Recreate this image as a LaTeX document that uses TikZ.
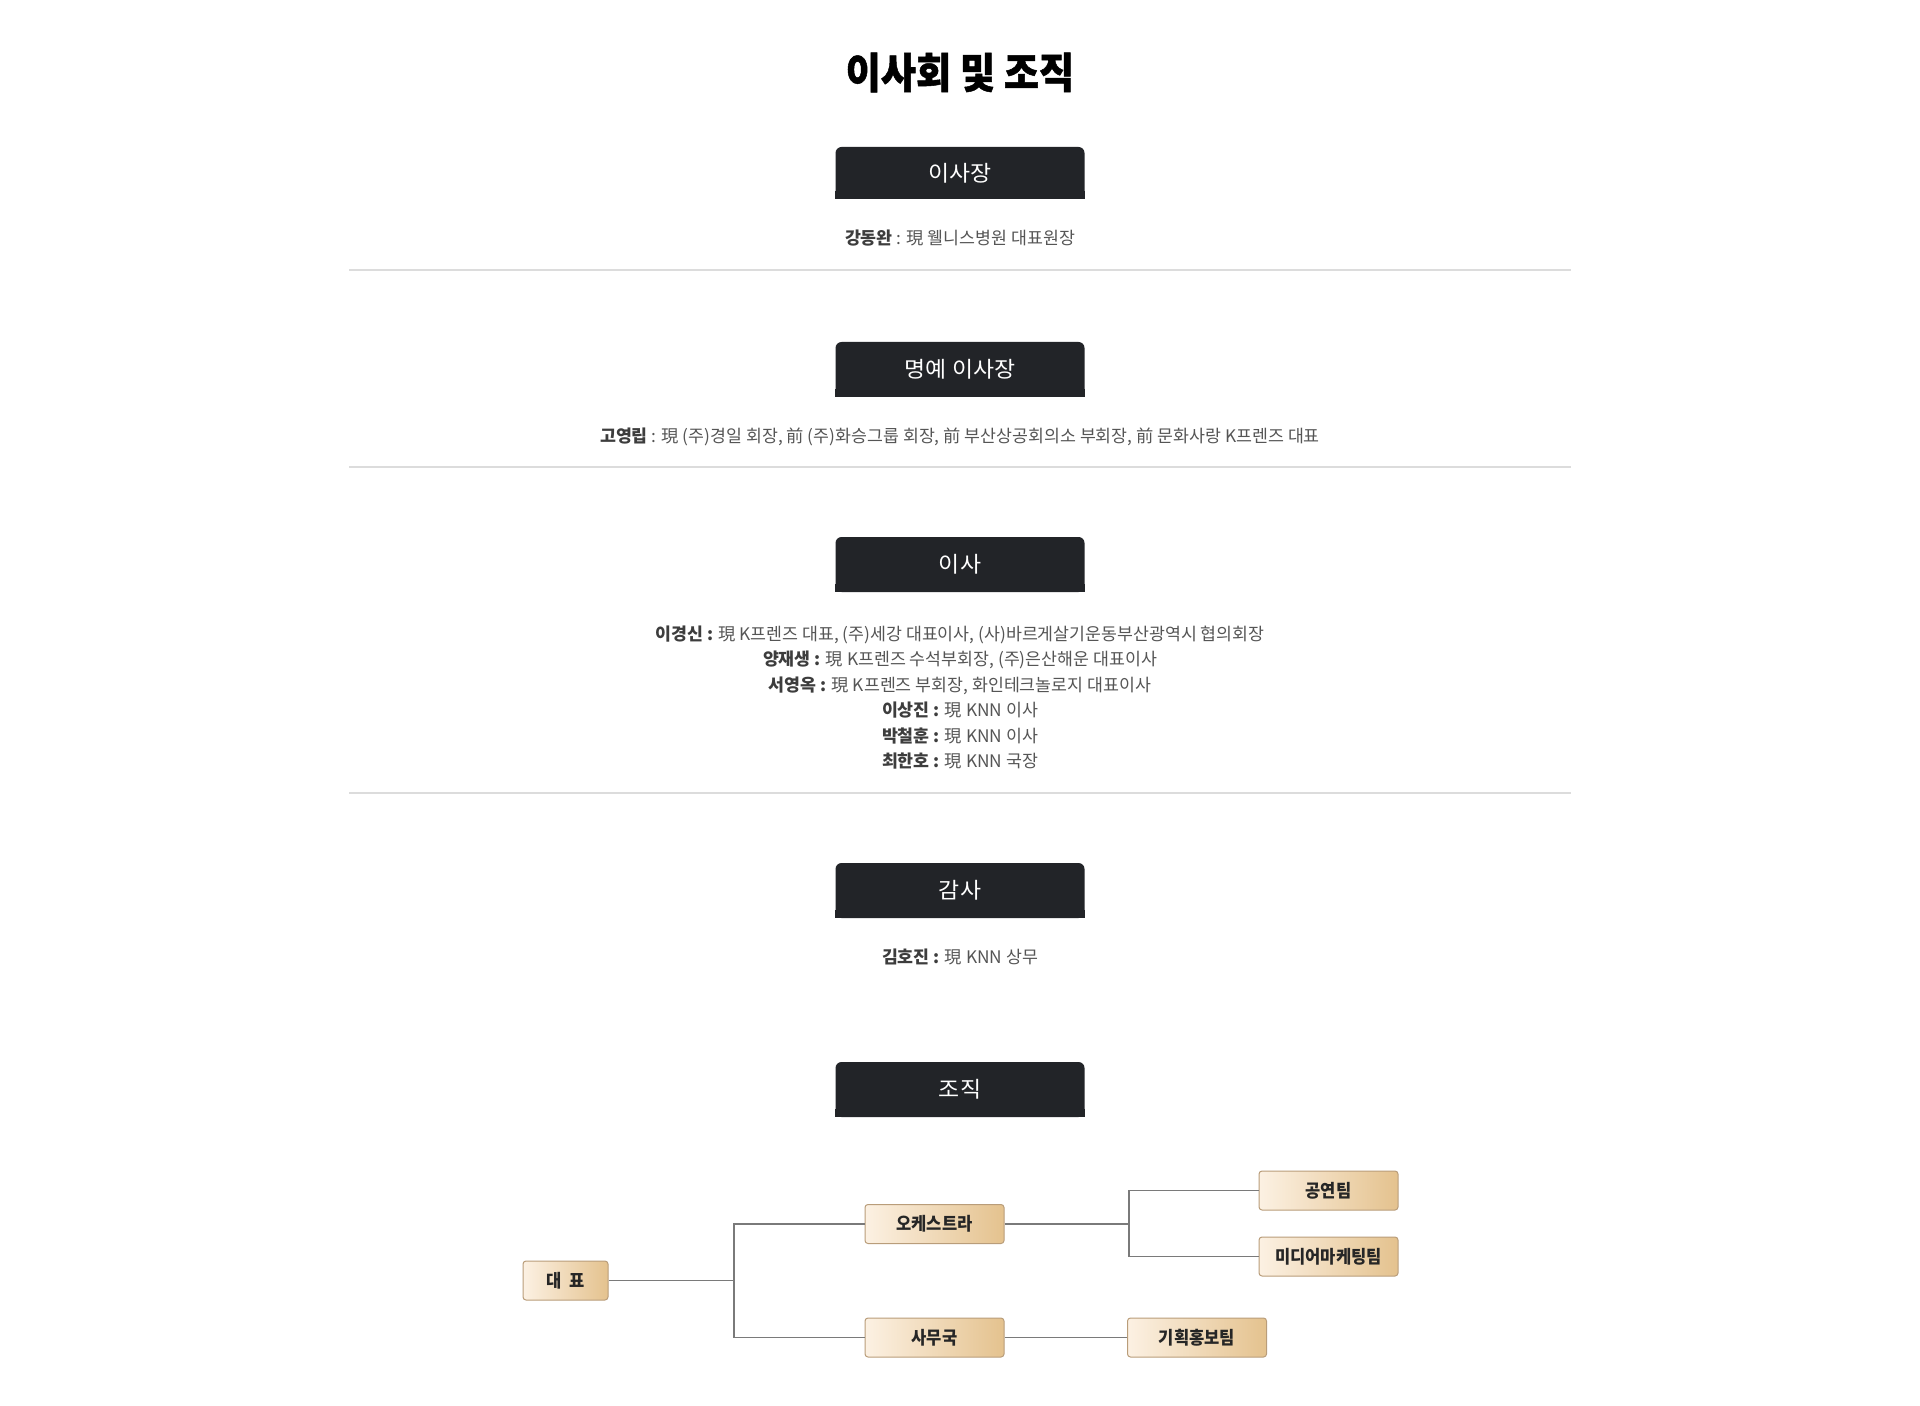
\documentclass[tikz,border=0pt]{standalone}
\usepackage{fontspec}
\newfontfamily\kr{Noto Sans CJK KR}
\newfontfamily\krh[FakeStretch=1.04]{Noto Sans CJK KR}
\newfontfamily\krn[FakeStretch=0.92]{Noto Sans CJK KR}
\newfontfamily\krt[FakeStretch=0.91,FakeBold=1.2]{Noto Sans CJK KR}
\definecolor{headfill}{HTML}{222428}
\definecolor{sepline}{HTML}{DCDCDC}
\definecolor{namecol}{HTML}{3D3D3D}
\definecolor{bodycol}{HTML}{555555}
\definecolor{orgleft}{HTML}{FCF1E3}
\definecolor{orgright}{HTML}{E4C28E}
\definecolor{orgborder}{HTML}{B99D7A}
\definecolor{linkcol}{HTML}{7A7A7A}
\tikzset{
  sechead/.style={fill=headfill, rounded corners=3pt, minimum width=124.5pt,
    minimum height=27.5pt, inner sep=0pt, text=white,
    font=\krh\fontsize{11pt}{13pt}\selectfont},
  bodytext/.style={inner sep=0pt, text=bodycol, align=center,
    font=\kr\fontsize{8.65pt}{12.7pt}\selectfont},
  sepstyle/.style={draw=sepline, line width=1pt},
  orgbox/.style={draw=orgborder, line width=0.5pt, rounded corners=1.5pt,
    left color=orgleft, right color=orgright, minimum width=69.5pt,
    minimum height=19.5pt, inner sep=0pt, text=black!85,
    font=\krn\bfseries\fontsize{9pt}{11pt}\selectfont},
  link/.style={draw=linkcol, line width=0.75pt}
}
\newcommand{\nm}[1]{\textbf{\color{namecol}#1}}
\begin{document}
\begin{tikzpicture}[x=0.5pt,y=-0.5pt]
\useasboundingbox[fill=white] (0,0) rectangle (1920,1406);

% title
\node[inner sep=0pt, text=black, font=\krt\bfseries\fontsize{21pt}{24pt}\selectfont] (title) at (960,72.5) {이사회 및 조직};

% section 1
\node[sechead, minimum height=26pt] (h1) at (960,173) {이사장};
\fill[headfill] (h1.south west) rectangle ([yshift=4pt]h1.south east);
\node[bodytext] (t1) at (960,238) {\nm{강동완} : 現 웰니스병원 대표원장};
\coordinate (s1a) at (349,270); \coordinate (s1b) at (1571,270);
\draw[sepstyle] (s1a) -- (s1b);

% section 2
\node[sechead] (h2) at (960,369.5) {명예 이사장};
\fill[headfill] (h2.south west) rectangle ([yshift=4pt]h2.south east);
\node[bodytext] (t2) at (960,437) {\nm{고영립} : 現 (주)경일 회장, 前 (주)화승그룹 회장, 前 부산상공회의소 부회장, 前 문화사랑 K프렌즈 대표};
\coordinate (s2a) at (349,467); \coordinate (s2b) at (1571,467);
\draw[sepstyle] (s2a) -- (s2b);

% section 3
\node[sechead] (h3) at (960,564.5) {이사};
\fill[headfill] (h3.south west) rectangle ([yshift=4pt]h3.south east);
\node[bodytext] (t3) at (960,697.5) {%
\nm{이경신 :} 現 K프렌즈 대표, (주)세강 대표이사, (사)바르게살기운동부산광역시 협의회장\\
\nm{양재생 :} 現 K프렌즈 수석부회장, (주)은산해운 대표이사\\
\nm{서영옥 :} 現 K프렌즈 부회장, 화인테크놀로지 대표이사\\
\nm{이상진 :} 現 KNN 이사\\
\nm{박철훈 :} 現 KNN 이사\\
\nm{최한호 :} 現 KNN 국장};
\coordinate (s3a) at (349,793); \coordinate (s3b) at (1571,793);
\draw[sepstyle] (s3a) -- (s3b);

% section 4
\node[sechead] (h4) at (960,890.5) {감사};
\fill[headfill] (h4.south west) rectangle ([yshift=4pt]h4.south east);
\node[bodytext] (t4) at (960,957) {\nm{김호진 :} 現 KNN 상무};

% section 5
\node[sechead] (h5) at (960,1089.5) {조직};
\fill[headfill] (h5.south west) rectangle ([yshift=4pt]h5.south east);

% org chart
\node[orgbox, minimum width=42.5pt] (ceo) at (565.5,1280.5) {대\hspace{0.45em}표};
\node[orgbox] (orch) at (934.5,1224) {오케스트라};
\node[orgbox] (office) at (934.5,1337.5) {사무국};
\node[orgbox] (perf) at (1328.5,1190.5) {공연팀};
\node[orgbox] (media) at (1328.5,1256.5) {미디어마케팅팀};
\node[orgbox] (plan) at (1197,1337.5) {기획홍보팀};

\coordinate (j1) at (734,1280.5);
\coordinate (j2) at (1129,1224);
\draw[link] (ceo.east) -- (j1) |- (orch.west);
\draw[link] (j1) |- (office.west);
\draw[link] (orch.east) -- (j2) |- (perf.west);
\draw[link] (j2) |- (media.west);
\draw[link] (office.east) -- (plan.west);
\end{tikzpicture}
\end{document}
